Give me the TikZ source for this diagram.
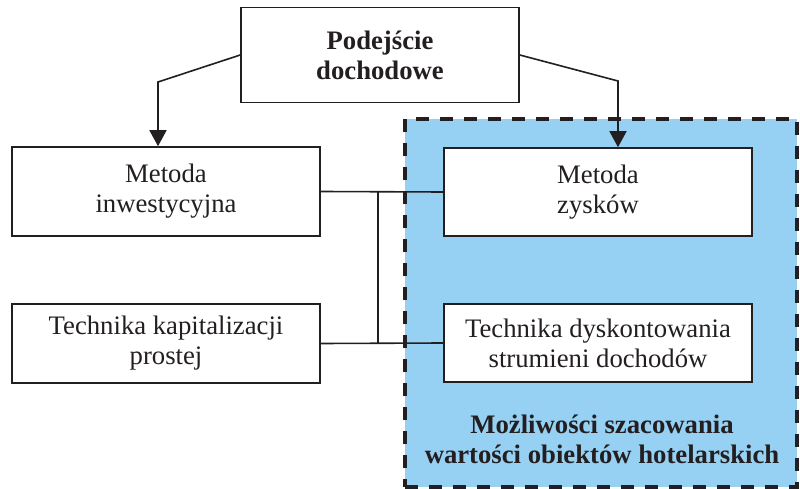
\documentclass[tikz,border=0pt]{standalone}
\usepackage{fontspec}
\setmainfont{Liberation Serif}
\usetikzlibrary{arrows.meta}
\definecolor{hotelblue}{RGB}{150,208,243}
\definecolor{ink}{RGB}{35,31,32}

\begin{document}
\begin{tikzpicture}[x=1pt,y=-1pt,
    box/.style={draw=ink, line width=1.6pt, fill=white, inner sep=0pt, align=center,
                font=\fontsize{26.7}{30}\selectfont, text=ink},
    link/.style={draw=ink, line width=1.6pt},
    arr/.style={link, -{Triangle[width=17pt,length=16pt]}}]
        \useasboundingbox (0,0) rectangle (800,489);

        % obszar hotelarski
        \node[draw=ink, fill=hotelblue, line width=4pt, dash pattern=on 13pt off 11pt,
              minimum width=392pt, minimum height=368pt, inner sep=0pt] (obszar) at (601,303) {};
        \node[font=\bfseries\fontsize{26.7}{30}\selectfont, text=ink, align=center] (opis) at (602,439)
              {Możliwości szacowania\\wartości obiektów hotelarskich};

        \node[box, font=\bfseries\fontsize{26.7}{30}\selectfont, minimum width=278pt, minimum height=95pt] (pod) at (380,55) {Podejście\\dochodowe};

        \node[box, minimum width=308pt, minimum height=89pt] (inw) at (166,191.5) {Metoda\\inwestycyjna};
        \node[box, minimum width=308pt, minimum height=79pt] (kap) at (166,343.5) {Technika kapitalizacji\\prostej};
        \node[box, minimum width=308pt, minimum height=88pt] (zys) at (598,192) {Metoda\\zysków};
        \node[box, minimum width=308pt, minimum height=78pt] (dys) at (598,343) {Technika dyskontowania\\strumieni dochodów};

        \coordinate (k1) at (158,82);
        \coordinate (k2) at (618,81);
        \draw[arr] (pod.west) -- (k1) -- (k1 |- inw.north);
        \draw[arr] (pod.east) -- (k2) -- (k2 |- zys.north);

        \coordinate (j1) at (378,192);
        \coordinate (j2) at (378,343);
        \draw[link] (inw.east) -- (zys.west);
        \draw[link] (kap.east) -- (dys.west);
        \draw[link] (j1) -- (j2);
\end{tikzpicture}
\end{document}
